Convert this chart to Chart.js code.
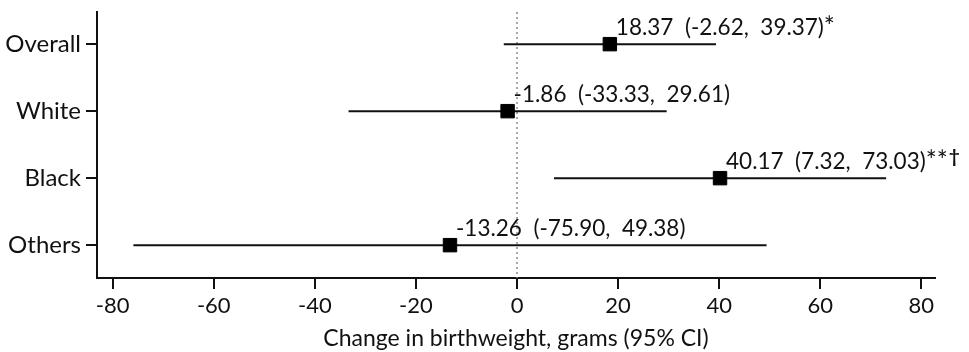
<!DOCTYPE html>
<html><head><meta charset="utf-8">
<script src="https://cdn.jsdelivr.net/npm/chart.js@4.4.1/dist/chart.umd.min.js"></script>
<style>html,body{margin:0;padding:0;background:#fff;overflow:hidden}#wrap{width:969px;height:352px}</style>
</head><body><div id="wrap"><canvas id="c" width="969" height="352"></canvas></div>
<script>
const categories = ['Overall', 'White', 'Black', 'Others'];
const estimates = [18.37, -1.86, 40.17, -13.26];
const lowerCI = [-2.62, -33.33, 7.32, -75.90];
const upperCI = [39.37, 29.61, 73.03, 49.38];
const stars = ['*', '', '**', ''];
const daggers = ['', '', '\u2020', ''];
const xTicks = [-80, -60, -40, -20, 0, 20, 40, 60, 80];
const xTitle = 'Change in birthweight, grams (95% CI)';

const INK = '#111';
const FONT = 'Lato';

const ciSets = categories.map((c, i) => ({
  type: 'line', label: c + ' CI', order: 1,
  data: [{x: lowerCI[i], y: i}, {x: upperCI[i], y: i}],
  showLine: true, borderColor: INK, borderWidth: 2, pointRadius: 0, fill: false
}));

const zeroSet = {
  type: 'line', label: 'zero', order: 2,
  data: [{x: 0, y: -0.48}, {x: 0, y: 3.49}],
  showLine: true, borderColor: '#8a8a8a', borderWidth: 1.5, borderDash: [2, 3],
  pointRadius: 0, fill: false
};

const pointSet = {
  type: 'scatter', label: 'estimate', order: 0,
  data: estimates.map((v, i) => ({x: v, y: i})),
  pointStyle: 'rect', pointRadius: 9.5, backgroundColor: '#000', borderColor: '#000', borderWidth: 1
};

const labelPlugin = {
  id: 'ciLabels',
  afterDatasetsDraw(chart) {
    const ctx = chart.ctx, xs = chart.scales.x, ys = chart.scales.y;
    ctx.save();
    ctx.fillStyle = INK;
    ctx.textAlign = 'left';
    ctx.textBaseline = 'alphabetic';
    estimates.forEach((v, i) => {
      const px = xs.getPixelForValue(v) + 6;
      const py = ys.getPixelForValue(i) - 9;
      const txt = v.toFixed(2) + '  (' + lowerCI[i].toFixed(2) + ',  ' + upperCI[i].toFixed(2) + ')';
      ctx.font = '22.5px ' + FONT;
      ctx.fillText(txt, px, py);
      let w = ctx.measureText(txt).width;
      if (stars[i]) {
        ctx.font = '26px ' + FONT;
        ctx.fillText(stars[i], px + w, py + 1);
        w += ctx.measureText(stars[i]).width;
      }
      if (daggers[i]) {
        ctx.font = 'bold 19px ' + FONT;
        ctx.fillText(daggers[i], px + w + 1, py - 6);
      }
    });
    ctx.restore();
  }
};

new Chart(document.getElementById('c'), {
  data: {datasets: [pointSet, ...ciSets, zeroSet]},
  options: {
    responsive: false, animation: false, devicePixelRatio: 1,
    layout: {padding: {left: 0, right: 34, top: 12, bottom: 0}},
    plugins: {legend: {display: false}, tooltip: {enabled: false}},
    scales: {
      x: {
        type: 'linear', min: -83.1, max: 82.7,
        afterBuildTicks: s => { s.ticks = xTicks.map(v => ({value: v})); },
        afterFit: s => { s.height = 74; s.paddingLeft = 0; s.paddingRight = 0; },
        grid: {drawOnChartArea: false, drawTicks: true, tickLength: 11, color: INK, lineWidth: 2},
        border: {display: true, color: INK, width: 2},
        ticks: {color: INK, font: {family: FONT, size: 22}, padding: 4, maxRotation: 0},
        title: {display: true, text: xTitle, color: INK, font: {family: FONT, size: 23}, padding: {top: 0, bottom: 0}}
      },
      y: {
        type: 'linear', reverse: true, min: -0.48, max: 3.49,
        afterBuildTicks: s => { s.ticks = categories.map((c, i) => ({value: i})); },
        afterFit: s => { s.width = 97; s.paddingTop = 0; s.paddingBottom = 0; },
        grid: {drawOnChartArea: false, drawTicks: true, tickLength: 11, color: INK, lineWidth: 2},
        border: {display: true, color: INK, width: 2},
        ticks: {color: INK, font: {family: FONT, size: 24}, padding: 5, callback: v => categories[v]}
      }
    }
  },
  plugins: [labelPlugin]
});
</script></body></html>
